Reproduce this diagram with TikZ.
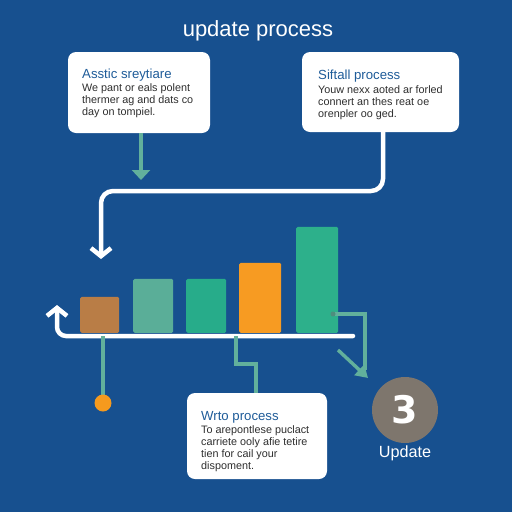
\documentclass[tikz,border=0pt]{standalone}
\usepackage{fontspec}
\setmainfont{Liberation Sans}
\newfontfamily\heavyfont{DejaVu Sans}
\usetikzlibrary{arrows.meta}
\definecolor{bg}{HTML}{17508F}
\definecolor{ttlblue}{HTML}{1F5C99}
\definecolor{bodygray}{HTML}{2E2E2E}
\definecolor{tealline}{HTML}{62B09C}
\definecolor{barbrown}{HTML}{B97D46}
\definecolor{barmuted}{HTML}{5AAE98}
\definecolor{barteal}{HTML}{27AC8A}
\definecolor{barorange}{HTML}{F79B22}
\definecolor{bargreen}{HTML}{2DB08B}
\definecolor{dotorange}{HTML}{F59A1E}
\definecolor{stone}{HTML}{7E766D}
\tikzset{
  card/.style={fill=white, rounded corners=8pt, inner sep=0pt, draw=none},
  ttl/.style={anchor=west, inner sep=0pt, text=ttlblue, font=\fontsize{13.2}{15}\selectfont},
  body/.style={anchor=north west, inner sep=0pt, text=bodygray, align=left, font=\fontsize{10.8}{12.2}\selectfont},
  whiteline/.style={draw=white, line width=4.5pt},
  tealconn/.style={draw=tealline, line width=3.4pt},
  bar/.style={rounded corners=1.5pt, inner sep=0pt, anchor=south west},
  barbhead/.style={-{Straight Barb[length=8pt,width=20pt,line width=4.5pt]}},
}
\begin{document}
\begin{tikzpicture}[x=1pt,y=-1pt]
\fill[bg] (0,0) rectangle (512,512);
\useasboundingbox (0,0) rectangle (512,512);

% title
\node[text=white, font=\fontsize{22}{24}\selectfont, inner sep=0pt] (title) at (258,31) {update process};

% cards
\node[card, minimum width=142pt, minimum height=81pt] (b1) at (139,92.5) {};
\node[ttl] (t1) at (82,75.5) {Asstic sreytiare};
\node[body] (d1) at (82,83) {We pant or eals polent\\thermer ag and dats co\\day on tompiel.};

\node[card, minimum width=157pt, minimum height=80pt] (b2) at (380.5,92) {};
\node[ttl] (t2) at (318,76.5) {Siftall process};
\node[body] (d2) at (318,85) {Youw nexx aoted ar forled\\connert an thes reat oe\\orenpler oo ged.};

\node[card, minimum width=140pt, minimum height=86pt] (b3) at (257,436) {};
\node[ttl] (t3) at (201,417) {Wrto process};
\node[body] (d3) at (201,425) {To arepontlese puclact\\carriete ooly afie tetire\\tien for cail your\\dispoment.};

% bars
\node[bar, fill=barbrown, minimum width=39pt, minimum height=36pt] (r1) at (80,333) {};
\node[bar, fill=barmuted, minimum width=40pt, minimum height=54pt] (r2) at (133,333) {};
\node[bar, fill=barteal, minimum width=40pt, minimum height=54pt] (r3) at (186,333) {};
\node[bar, fill=barorange, minimum width=42pt, minimum height=70pt] (r4) at (239,333) {};
\node[bar, fill=bargreen, minimum width=42pt, minimum height=106pt] (r5) at (296,333) {};

% circle
\node[circle, fill=stone, minimum size=66pt, inner sep=0pt, text=white, font=\heavyfont\fontsize{38}{38}\selectfont\bfseries] (c3) at (405,410) {3};
\node[text=white, font=\fontsize{16.2}{18}\selectfont, inner sep=0pt] (lbl) at (405,453) {Update};

% coordinates
\coordinate (a1end) at (141,180);
\coordinate (wend) at (101,259);
\coordinate (baseR) at (353,336);
\coordinate (baseL) at (57,305);
\coordinate (dotc) at (103,403);
\coordinate (j1) at (236,336);
\coordinate (j0) at (103,336);
\coordinate (s1) at (333,314);
\coordinate (tip) at (368,378);

% teal arrow from card 1
\draw[tealconn, -{Triangle[width=18pt,length=10pt]}] (b1.south -| a1end) -- (a1end);

% white connector from card 2
\draw[whiteline, rounded corners=12pt, barbhead]
  (b2.south -| 383,0) -- (383,191) -- (101,191) -- (wend);

% baseline with up arrow
\draw[whiteline, line cap=round, rounded corners=9pt, barbhead]
  (baseR) -- (57,336) -- (baseL);

% teal connectors below
\draw[tealconn] (j0) -- (dotc);
\fill[dotorange] (dotc) circle (8.5pt);
\draw[tealconn] (j1) -- (236,364) -- (256,364) -- (b3.north -| 256,0);

% from bar 5 to circle
\draw[tealconn] (s1) -- (365,314) -- (365,370);
\fill[tealline!80!black] (s1) circle (2.5pt);
\draw[tealconn, -{Triangle[width=14pt,length=12pt]}] (338,350) -- (tip);
\end{tikzpicture}
\end{document}
